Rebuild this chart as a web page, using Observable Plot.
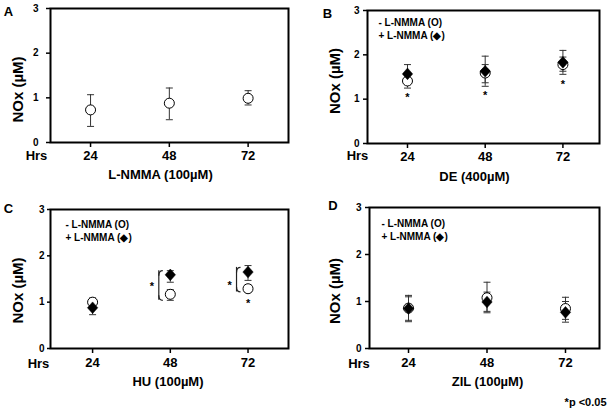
<!DOCTYPE html>
<html>
<head>
<meta charset="utf-8">
<script src="https://cdn.jsdelivr.net/npm/d3@7"></script>
<script src="https://cdn.jsdelivr.net/npm/@observablehq/plot@0.6"></script>
<style>
  html, body { margin: 0; padding: 0; background: white; }
  #chart { position: relative; width: 612px; height: 410px; background: white; overflow: hidden; }
  #chart svg { position: absolute; }
</style>
</head>
<body>
<div id="chart"></div>
<script>
// ---------- data ----------
const hours = [24, 48, 72];
const xTicks = [24, 48, 72];
const yTicks = [0, 1, 2, 3];
const panelLetters = ["A", "B", "C", "D"];
const xTitles = ["L-NMMA (100µM)", "DE (400µM)", "HU (100µM)", "ZIL (100µM)"];
const yTitle = "NOx (µM)";
const hrsLabel = "Hrs";
const legendLabels = ["- L-NMMA (O)", "+ L-NMMA (◆)"];
const footnote = "*p <0.05";

// Panel A: L-NMMA alone (open circles)
const aMean = [0.73, 0.88, 0.99];
const aLow  = [0.36, 0.51, 0.84];
const aHigh = [1.07, 1.22, 1.16];

// Panel B: DE (400µM)
const bMinusMean = [1.41, 1.59, 1.78];
const bMinusLow  = [1.25, 1.29, 1.56];
const bMinusHigh = [1.57, 1.97, 2.10];
const bPlusMean  = [1.57, 1.63, 1.83];
const bPlusLow   = [1.40, 1.37, 1.63];
const bPlusHigh  = [1.78, 1.78, 1.95];
const bStarY     = [1.10, 1.16, 1.40];

// Panel C: HU (100µM)
const cMinusMean = [1.00, 1.17, 1.29];
const cMinusLow  = [0.95, 1.04, 1.21];
const cMinusHigh = [1.09, 1.27, 1.37];
const cPlusMean  = [0.88, 1.59, 1.65];
const cPlusLow   = [0.73, 1.43, 1.47];
const cPlusHigh  = [1.00, 1.68, 1.79];
const cStarHours = [72];
const cStarY     = [1.04];
const cBracketHours = [48, 72];
const cBracketLow   = [1.04, 1.22];
const cBracketHigh  = [1.68, 1.75];
const cBracketStarY = [1.41, 1.43];

// Panel D: ZIL (100µM)
const dMinusMean = [0.86, 1.08, 0.85];
const dMinusLow  = [0.57, 0.76, 0.62];
const dMinusHigh = [1.13, 1.41, 1.09];
const dPlusMean  = [0.85, 0.99, 0.77];
const dPlusLow   = [0.60, 0.79, 0.56];
const dPlusHigh  = [1.10, 1.20, 1.00];

// ---------- helpers ----------
const rows = (mean, lo, hi) => hours.map((h, i) => ({h, mean: mean[i], lo: lo[i], hi: hi[i]}));
const capSymbol = {draw(ctx) { ctx.moveTo(-3.5, 0); ctx.lineTo(3.5, 0); }};
const diamondSymbol = {draw(ctx, size) {
  const r = Math.sqrt(size / Math.PI);
  ctx.moveTo(0, -r * 1.12); ctx.lineTo(r, 0); ctx.lineTo(0, r * 1.12); ctx.lineTo(-r, 0); ctx.closePath();
}};
const hookTop = {draw(ctx) { ctx.moveTo(0, 5); ctx.quadraticCurveTo(0, 0, 4, 0); }};
const hookBottom = {draw(ctx) { ctx.moveTo(0, -5); ctx.quadraticCurveTo(0, 0, 4, 0); }};
const FONT = "'Liberation Sans', Arial, Helvetica, sans-serif";

function errorMarks(data) {
  return [
    Plot.ruleX(data, {x: "h", y1: "lo", y2: "hi", stroke: "#333", strokeWidth: 1}),
    Plot.dot(data, {x: "h", y: "lo", symbol: capSymbol, r: 1, fill: "none", stroke: "#333", strokeWidth: 1}),
    Plot.dot(data, {x: "h", y: "hi", symbol: capSymbol, r: 1, fill: "none", stroke: "#333", strokeWidth: 1})
  ];
}
const circles = (data) => Plot.dot(data, {x: "h", y: "mean", r: 5, fill: "white", stroke: "black", strokeWidth: 1});
const diamonds = (data) => Plot.dot(data, {x: "h", y: "mean", r: 5.2, symbol: diamondSymbol, fill: "black", stroke: "black", strokeWidth: 0.5});
const centered = {textAnchor: "middle", lineAnchor: "middle", fontWeight: "bold"};

function panel(L, idx, dataMarks, extra) {
  const marks = [
    Plot.axisY({ticks: yTicks, tickFormat: "d", tickSize: L.yTickSize, tickPadding: L.yTickPad, fontSize: 10, fontWeight: "bold", strokeWidth: 1.5, label: null}),
    Plot.axisX({ticks: xTicks, tickFormat: "d", tickSize: 5, tickPadding: L.xTickPad, fontSize: 13, fontWeight: "bold", strokeWidth: 1.5, label: null}),
    ...dataMarks,
    Plot.frame({stroke: "black", strokeWidth: 2}),
    Plot.text([panelLetters[idx]], {...centered, text: d => d, frameAnchor: "top-left", dx: L.letter[0], dy: L.letter[1], fontSize: 13}),
    Plot.text([yTitle], {...centered, text: d => d, frameAnchor: "left", rotate: -90, dx: L.ytitle[0], dy: L.ytitle[1], fontSize: 15}),
    Plot.text([xTitles[idx]], {...centered, text: d => d, frameAnchor: "bottom", dx: L.xtitle[0], dy: L.xtitle[1], fontSize: 13}),
    Plot.text([hrsLabel], {...centered, text: d => d, frameAnchor: "bottom-left", dx: L.hrs[0], dy: L.hrs[1], fontSize: 13}),
    ...(extra || [])
  ];
  if (L.legend) {
    marks.push(Plot.text([legendLabels.join("\n")], {text: d => d, frameAnchor: "top-left", textAnchor: "start", lineAnchor: "top", lineHeight: 1.3, dx: L.legend[0], dy: L.legend[1], fontSize: 10, fontWeight: "bold"}));
  }
  const svg = Plot.plot({
    width: L.width, height: L.height,
    marginLeft: L.m[0], marginRight: L.m[1], marginTop: L.m[2], marginBottom: L.m[3],
    x: {type: "linear", domain: L.xDomain},
    y: {type: "linear", domain: [0, 3]},
    style: {fontFamily: FONT, background: "white", color: "black", overflow: "visible"},
    marks
  });
  svg.style.left = L.left + "px";
  svg.style.top = L.top + "px";
  document.getElementById("chart").appendChild(svg);
}

// ---------- layout (styling only) ----------
const layoutA = {left: 0, top: 0, width: 306, height: 200, m: [50, 18, 8, 58], xDomain: [11.8, 84.3],
  yTickSize: 4, yTickPad: 8, xTickPad: 3, letter: [-42, 3.5], ytitle: [-32.5, 14], xtitle: [-9, 32], hrs: [-14, 13]};
const layoutB = {left: 306, top: 0, width: 306, height: 200, m: [61, 13, 10, 57], xDomain: [11.65, 83.3],
  yTickSize: 4, yTickPad: 4, xTickPad: 3, letter: [-40, 3.5], ytitle: [-32.7, 4], xtitle: [-9, 33], hrs: [-10, 12], legend: [11, 6.5]};
const layoutC = {left: 0, top: 200, width: 306, height: 210, m: [50, 18, 9, 62], xDomain: [11.0, 84.5],
  yTickSize: 3, yTickPad: 3, xTickPad: 4, letter: [-42, -1], ytitle: [-32.7, 11.5], xtitle: [-1.5, 33], hrs: [-12, 15], legend: [15, 9.5]};
const layoutD = {left: 306, top: 200, width: 306, height: 210, m: [63, 13, 7, 62], xDomain: [12.07, 82.4],
  yTickSize: 4, yTickPad: 4, xTickPad: 4, letter: [-36.5, -1.5], ytitle: [-34.7, 13], xtitle: [3, 33], hrs: [-10.5, 15], legend: [12, 10.2]};

// ---------- panels ----------
const aRows = rows(aMean, aLow, aHigh);
panel(layoutA, 0, [...errorMarks(aRows), circles(aRows)]);

const bMinus = rows(bMinusMean, bMinusLow, bMinusHigh);
const bPlus = rows(bPlusMean, bPlusLow, bPlusHigh);
const bStars = hours.map((h, i) => ({h, y: bStarY[i]}));
panel(layoutB, 1, [
  ...errorMarks(bMinus), ...errorMarks(bPlus), circles(bMinus), diamonds(bPlus),
  Plot.text(bStars, {x: "h", y: "y", text: () => "*", fontSize: 11, fontWeight: "bold", dy: 3})
]);

const cMinus = rows(cMinusMean, cMinusLow, cMinusHigh);
const cPlus = rows(cPlusMean, cPlusLow, cPlusHigh);
const cStars = cStarHours.map((h, i) => ({h, y: cStarY[i]}));
const cBrackets = cBracketHours.map((h, i) => ({h, lo: cBracketLow[i], hi: cBracketHigh[i], star: cBracketStarY[i]}));
panel(layoutC, 2, [
  ...errorMarks(cMinus), ...errorMarks(cPlus), circles(cMinus), diamonds(cPlus),
  Plot.text(cStars, {x: "h", y: "y", text: () => "*", fontSize: 11, fontWeight: "bold", dy: 3}),
  Plot.ruleX(cBrackets, {x: "h", y1: "lo", y2: "hi", dx: -11.5, stroke: "#222", strokeWidth: 1.2}),
  Plot.dot(cBrackets, {x: "h", y: "hi", symbol: hookTop, r: 1, dx: -11.5, fill: "none", stroke: "#222", strokeWidth: 1.2}),
  Plot.dot(cBrackets, {x: "h", y: "lo", symbol: hookBottom, r: 1, dx: -11.5, fill: "none", stroke: "#222", strokeWidth: 1.2}),
  Plot.text(cBrackets, {x: "h", y: "star", text: () => "*", dx: -18.5, dy: 3, fontSize: 11, fontWeight: "bold"})
]);

const dMinus = rows(dMinusMean, dMinusLow, dMinusHigh);
const dPlus = rows(dPlusMean, dPlusLow, dPlusHigh);
panel(layoutD, 3, [
  ...errorMarks(dMinus), ...errorMarks(dPlus), circles(dMinus), diamonds(dPlus)
], [
  Plot.text([footnote], {text: d => d, frameAnchor: "bottom-right", textAnchor: "end", lineAnchor: "middle", dx: 7, dy: 54, fontSize: 11, fontWeight: "bold"})
]);
</script>
</body>
</html>
